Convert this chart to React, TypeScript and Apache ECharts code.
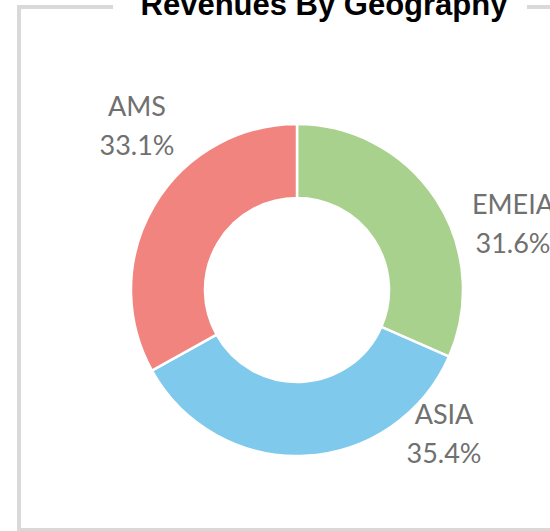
import React, { useEffect, useRef } from "react";
import * as echarts from "echarts";

const categories = ["EMEIA", "ASIA", "AMS"];
const values = [31.6, 35.4, 33.1];
const colors = ["#a9d18e", "#7fc9ec", "#f1847f"];
const labelPos: [number, number][] = [
  [513, 223],
  [444, 433],
  [137, 125],
];

export default function App() {
  const ref = useRef<HTMLDivElement>(null);
  useEffect(() => {
    const chart = echarts.init(ref.current!, null, { renderer: "svg" });
    const lineStyle = { stroke: "#d9d9d9", lineWidth: 4 };
    chart.setOption({
      animation: false,
      backgroundColor: "#ffffff",
      title: {
        text: "Revenues By Geography",
        left: 319,
        textAlign: "center",
        top: -16,
        textStyle: {
          fontFamily: "Liberation Sans",
          fontWeight: "bold",
          fontSize: 31,
          color: "#000000",
        },
      },
      graphic: [
        { type: "line", shape: { x1: 19, y1: 7, x2: 113, y2: 7 }, style: lineStyle, silent: true },
        { type: "line", shape: { x1: 527, y1: 7, x2: 560, y2: 7 }, style: lineStyle, silent: true },
        { type: "line", shape: { x1: 19, y1: 5, x2: 19, y2: 531 }, style: lineStyle, silent: true },
        { type: "line", shape: { x1: 17, y1: 530, x2: 560, y2: 530 }, style: lineStyle, silent: true },
      ],
      series: [
        {
          type: "pie",
          center: [297, 290],
          radius: [92, 166],
          startAngle: 90,
          clockwise: true,
          avoidLabelOverlap: false,
          itemStyle: { borderColor: "#ffffff", borderWidth: 2.5 },
          label: {
            show: true,
            position: "outside",
            formatter: (p: any) => `${p.name}\n${p.value.toFixed(1)}%`,
            fontFamily: "Lato",
            fontSize: 27,
            lineHeight: 39,
            color: "#707070",
            align: "center",
          },
          labelLine: { show: false },
          labelLayout: (params: any) => ({
            x: labelPos[params.dataIndex][0],
            y: labelPos[params.dataIndex][1],
            align: "center",
            verticalAlign: "middle",
          }),
          data: categories.map((c, i) => ({
            name: c,
            value: values[i],
            itemStyle: { color: colors[i] },
          })),
        },
      ],
    });
    return () => chart.dispose();
  }, []);
  return (
    <div
      ref={ref}
      style={{ position: "absolute", left: 0, top: 0, width: 550, height: 531 }}
    />
  );
}
